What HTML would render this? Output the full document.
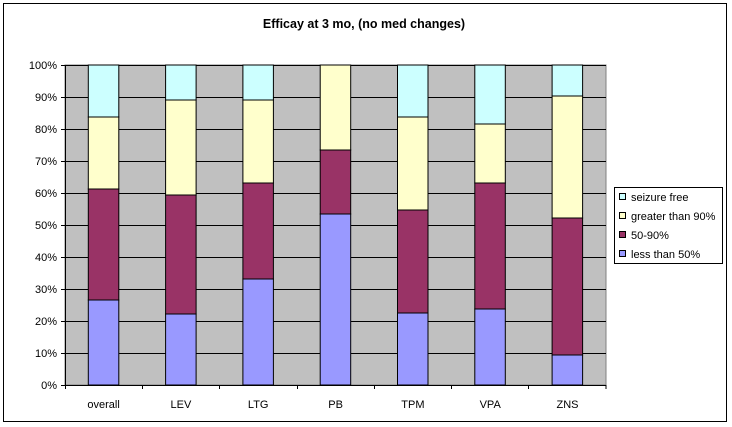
<!DOCTYPE html>
<html><head><meta charset="utf-8"><style>body{margin:0;background:#fff}svg{display:block}text{font-family:"Liberation Sans",Arial,sans-serif;font-size:11px;fill:#000}</style></head>
<body>
<svg width="732" height="427" viewBox="0 0 732 427" xmlns="http://www.w3.org/2000/svg">
<rect x="0" y="0" width="732" height="427" fill="#fff"/>
<rect x="3.5" y="3.5" width="723" height="418" fill="#fff" stroke="#000" stroke-width="1"/>
<text x="364" y="28" text-anchor="middle" style="font-weight:bold;font-size:12.5px">Efficay at 3 mo, (no med changes)</text>
<rect x="65" y="65" width="541" height="320" fill="#C0C0C0" stroke="#808080"/>
<g stroke="#000" stroke-width="1">
<line x1="61" y1="65.5" x2="606" y2="65.5"/><line x1="61" y1="97.5" x2="606" y2="97.5"/><line x1="61" y1="129.5" x2="606" y2="129.5"/><line x1="61" y1="161.5" x2="606" y2="161.5"/><line x1="61" y1="193.5" x2="606" y2="193.5"/><line x1="61" y1="225.5" x2="606" y2="225.5"/><line x1="61" y1="257.5" x2="606" y2="257.5"/><line x1="61" y1="289.5" x2="606" y2="289.5"/><line x1="61" y1="321.5" x2="606" y2="321.5"/><line x1="61" y1="353.5" x2="606" y2="353.5"/><line x1="61" y1="385.5" x2="606" y2="385.5"/>
<line x1="65.5" y1="65" x2="65.5" y2="385"/>
<line x1="142.5" y1="385" x2="142.5" y2="389"/><line x1="219.5" y1="385" x2="219.5" y2="389"/><line x1="297.5" y1="385" x2="297.5" y2="389"/><line x1="374.5" y1="385" x2="374.5" y2="389"/><line x1="451.5" y1="385" x2="451.5" y2="389"/><line x1="528.5" y1="385" x2="528.5" y2="389"/><line x1="606" y1="385" x2="606" y2="389"/><line x1="65.5" y1="385" x2="65.5" y2="389"/>
</g>
<g text-anchor="end">
<text x="57" y="69">100%</text><text x="57" y="101">90%</text><text x="57" y="133">80%</text><text x="57" y="165">70%</text><text x="57" y="197">60%</text><text x="57" y="229">50%</text><text x="57" y="261">40%</text><text x="57" y="293">30%</text><text x="57" y="325">20%</text><text x="57" y="357">10%</text><text x="57" y="389">0%</text>
</g>
<g stroke="#000" stroke-width="1">
<rect x="88.3" y="65" width="30.5" height="52" fill="#CCFFFF"/><rect x="88.3" y="117" width="30.5" height="72" fill="#FFFFCC"/><rect x="88.3" y="189" width="30.5" height="111" fill="#993366"/><rect x="88.3" y="300" width="30.5" height="85" fill="#9999FF"/>
<rect x="165.6" y="65" width="30.5" height="35" fill="#CCFFFF"/><rect x="165.6" y="100" width="30.5" height="95" fill="#FFFFCC"/><rect x="165.6" y="195" width="30.5" height="119" fill="#993366"/><rect x="165.6" y="314" width="30.5" height="71" fill="#9999FF"/>
<rect x="242.9" y="65" width="30.5" height="35" fill="#CCFFFF"/><rect x="242.9" y="100" width="30.5" height="83" fill="#FFFFCC"/><rect x="242.9" y="183" width="30.5" height="96" fill="#993366"/><rect x="242.9" y="279" width="30.5" height="106" fill="#9999FF"/>
<rect x="320.2" y="65" width="30.5" height="85" fill="#FFFFCC"/><rect x="320.2" y="150" width="30.5" height="64" fill="#993366"/><rect x="320.2" y="214" width="30.5" height="171" fill="#9999FF"/>
<rect x="397.5" y="65" width="30.5" height="52" fill="#CCFFFF"/><rect x="397.5" y="117" width="30.5" height="93" fill="#FFFFCC"/><rect x="397.5" y="210" width="30.5" height="103" fill="#993366"/><rect x="397.5" y="313" width="30.5" height="72" fill="#9999FF"/>
<rect x="474.8" y="65" width="30.5" height="59" fill="#CCFFFF"/><rect x="474.8" y="124" width="30.5" height="59" fill="#FFFFCC"/><rect x="474.8" y="183" width="30.5" height="126" fill="#993366"/><rect x="474.8" y="309" width="30.5" height="76" fill="#9999FF"/>
<rect x="552.1" y="65" width="30.5" height="31" fill="#CCFFFF"/><rect x="552.1" y="96" width="30.5" height="122" fill="#FFFFCC"/><rect x="552.1" y="218" width="30.5" height="137" fill="#993366"/><rect x="552.1" y="355" width="30.5" height="30" fill="#9999FF"/>
</g>
<g text-anchor="middle">
<text x="103.6" y="408">overall</text><text x="180.9" y="408">LEV</text><text x="258.2" y="408">LTG</text><text x="335.6" y="408">PB</text><text x="412.9" y="408">TPM</text><text x="490.2" y="408">VPA</text><text x="567.5" y="408">ZNS</text>
</g>
<rect x="614.5" y="187.5" width="108" height="76" fill="#fff" stroke="#000"/>
<g stroke="#000" stroke-width="1">
<rect x="619.5" y="193.5" width="6" height="6" fill="#CCFFFF"/>
<rect x="619.5" y="212.5" width="6" height="6" fill="#FFFFCC"/>
<rect x="619.5" y="231.5" width="6" height="6" fill="#993366"/>
<rect x="619.5" y="250.5" width="6" height="6" fill="#9999FF"/>
</g>
<text x="631" y="201">seizure free</text>
<text x="631" y="220">greater than 90%</text>
<text x="631" y="239">50-90%</text>
<text x="631" y="258">less than 50%</text>
</svg>
</body></html>
